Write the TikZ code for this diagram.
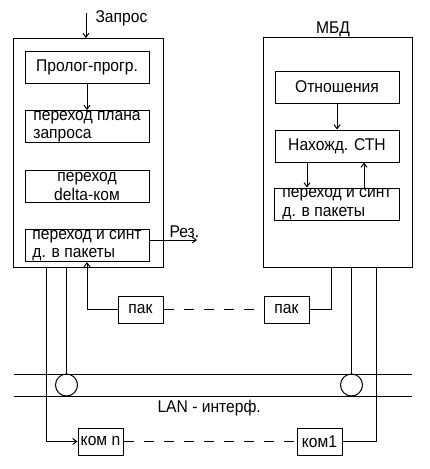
\documentclass[tikz,border=0pt]{standalone}
\usepackage{fontspec}
\setmainfont[FakeStretch=0.92]{Liberation Sans}
\usetikzlibrary{arrows.meta, positioning, calc}

\begin{document}
\begin{tikzpicture}[
    x=1pt, y=-1pt,
    font=\fontsize{17}{18.5}\selectfont,
    line width=1pt,
    outer/.style={
        rectangle, draw, inner sep=0pt,
        minimum width=150pt, minimum height=229pt
    },
    blk/.style={
        rectangle, draw, inner xsep=0pt, inner ysep=-3pt,
        minimum width=124pt, minimum height=32pt, align=#1
    },
    blk/.default=center,
    pk/.style={rectangle, draw, inner sep=0pt, minimum width=45pt, minimum height=27pt},
    tap/.style={circle, draw, inner sep=0pt, minimum size=22pt},
    arrow/.style={-{Straight Barb[length=4pt,width=6pt]}},
    dashline/.style={dash pattern=on 10pt off 10pt},
    lbl/.style={inner sep=0pt}
]

\useasboundingbox (0,0) rectangle (429,469);

% Left computer
\node[outer] (host) at (88,153) {};
\node[blk] (prolog) at (87,67.5) {Пролог-прогр.};
\node[blk=left, below=26pt of prolog] (plan) {переход плана\\запроса};
\node[blk, below=27pt of plan] (delta) {переход\\delta-ком};
\node[blk=left, below=26pt of delta] (synt) {переход и синт\\д. в пакеты};
\node[lbl, anchor=base west] (zapros) at (95,22) {Запрос};
\node[lbl, anchor=base west] (rezl) at (169,237) {Рез.};

% Right computer (MBD)
\node[outer, minimum height=230pt, minimum width=149pt] (mbdbox) at (337.5,152) {};
\node[blk] (rel) at (337,87) {Отношения};
\node[blk, below=26pt of rel] (find) {Нахожд. СТН};
\node[blk=left, minimum width=125pt, below=25pt of find] (rsynt) {переход и синт\\д. в пакеты};
\node[lbl, anchor=base] (mbd) at (333,33) {МБД};

% Packets and commands
\node[pk] (pakL) at (140.5,309.5) {пак};
\node[pk] (pakR) at (286.5,309.5) {пак};
\node[pk] (komn) at (100.5,441.5) {ком n};
\node[pk] (kom1) at (319.5,441.5) {ком1};

% LAN
\coordinate (lanA) at (14,374);
\coordinate (lanB) at (412,374);
\coordinate (lanC) at (14,396);
\coordinate (lanD) at (412,396);
\node[tap] (tapL) at (66.5,385) {};
\node[tap] (tapR) at (351.5,385) {};
\node[lbl, anchor=base west] (lan) at (157,412) {LAN - интерф.};

% free ends and bends
\coordinate (zin) at (86,13);
\coordinate (rez) at (197,240);
\coordinate (ldn) at (46,441.5);
\coordinate (rdn) at (376,441.5);
\coordinate (lup) at (87,309.5);
\coordinate (rup) at (331,309.5);

% Arrows
\draw[arrow] (zin) -- (zin |- host.north);
\draw[arrow] (prolog) -- (prolog |- plan.north);
\draw[arrow] (synt.east |- rez) -- (rez);
\draw[arrow] (rel) -- (rel |- find.north);
\draw[arrow] ([xshift=-30pt]find.south) -- ([xshift=-30pt]find.south |- rsynt.north);
\draw[arrow] ([xshift=27pt]rsynt.north) -- ([xshift=27pt]rsynt.north |- find.south);

\draw (lanA) -- (lanB);
\draw (lanC) -- (lanD);
\draw (host.south -| tapL) -- (tapL.north);
\draw (mbdbox.south -| tapR) -- (tapR.north);
\draw[arrow] (host.south -| ldn) -- (ldn) -- (komn.west);
\draw (kom1.east) -- (rdn) -- (rdn |- mbdbox.south);
\draw[arrow] (pakL.west) -- (lup) -- (lup |- synt.south);
\draw (pakR.east) -- (rup) -- (rup |- mbdbox.south);
\draw[dashline] (pakL) -- (pakR);
\draw[dashline] (komn) -- (kom1);

\end{tikzpicture}
\end{document}
